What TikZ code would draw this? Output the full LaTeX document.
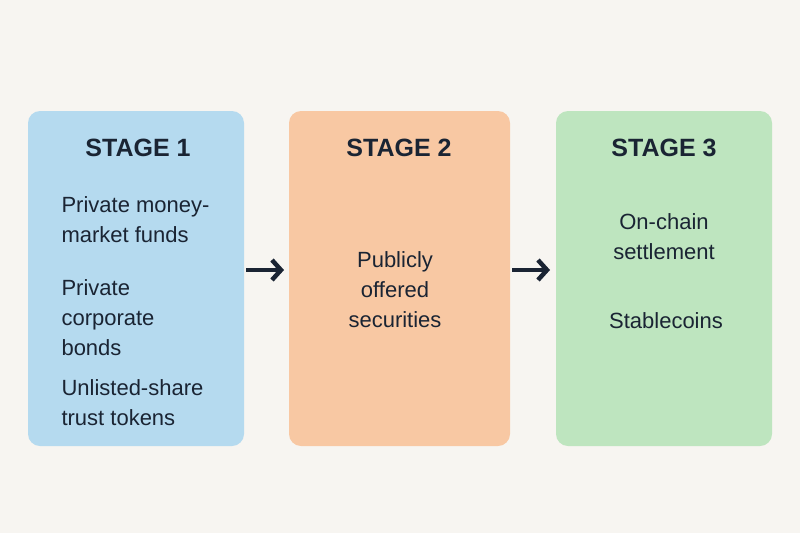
\documentclass[tikz,border=0pt]{standalone}
\usepackage{fontspec}
\setmainfont{Liberation Sans}
\usetikzlibrary{arrows.meta}
\definecolor{bg}{HTML}{F7F5F1}
\definecolor{b1}{HTML}{B5DAEF}
\definecolor{b2}{HTML}{F8C8A3}
\definecolor{b3}{HTML}{BEE5BF}
\definecolor{ink}{HTML}{1A2433}
\begin{document}
\begin{tikzpicture}[x=1pt,y=-1pt,
  box/.style={rounded corners=12pt,draw=none},
  ttl/.style={font=\fontsize{25}{30}\selectfont\bfseries,text=ink},
  txt/.style={font=\fontsize{22}{30}\selectfont,text=ink},
  arr/.style={draw=ink,line width=4.5pt,-{Straight Barb[length=9pt,width=20pt,line width=4.5pt]}}]
\fill[bg] (0,0) rectangle (800,533);
\useasboundingbox (0,0) rectangle (800,533);
\fill[box,b1] (28,111) rectangle (244,446);
\fill[box,b2] (289,111) rectangle (510,446);
\fill[box,b3] (556,111) rectangle (772,446);
\coordinate (s1) at (136,148);
\node[ttl] (t1) at (138,148) {STAGE 1};
\node[ttl] (t2) at (399,148) {STAGE 2};
\node[ttl] (t3) at (664,148) {STAGE 3};
\node[txt,anchor=west,align=left] (a1) at (58,220) {Private money-\\market funds};
\node[txt,anchor=west,align=left] (a2) at (58,318) {Private\\corporate\\bonds};
\node[txt,anchor=west,align=left] (a3) at (58,403) {Unlisted-share\\trust tokens};
\node[txt,align=center] (b) at (395,290) {Publicly\\offered\\securities};
\node[txt,align=center] (c1) at (664,237) {On-chain\\settlement};
\node[txt,align=center] (c2) at (666,321) {Stablecoins};
\coordinate (p1) at (246,270); \coordinate (p2) at (284,270);
\coordinate (q1) at (512,270); \coordinate (q2) at (550,270);
\draw[arr] (p1) -- (p2);
\draw[arr] (q1) -- (q2);
\end{tikzpicture}
\end{document}
